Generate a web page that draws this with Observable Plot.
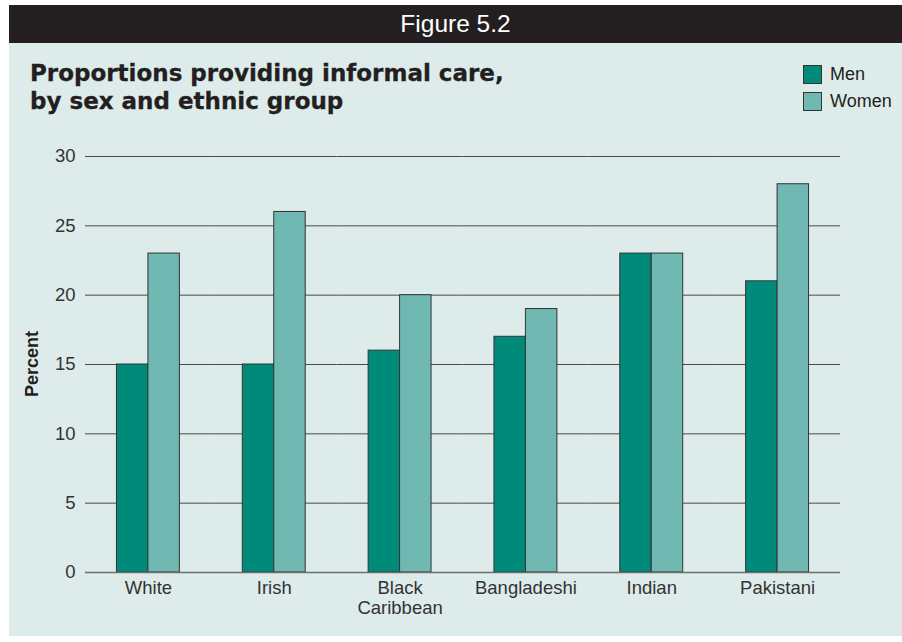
<!DOCTYPE html>
<html>
<head>
<meta charset="utf-8">
<script src="https://cdn.jsdelivr.net/npm/d3@7"></script>
<script src="https://cdn.jsdelivr.net/npm/@observablehq/plot@0.6"></script>
<style>
  html, body { margin: 0; padding: 0; background: #ffffff; }
  body { width: 902px; height: 642px; overflow: hidden; font-family: "Liberation Sans", Arial, Helvetica, sans-serif; }
  #wrap { position: relative; width: 902px; height: 642px; }
  #panel { position: absolute; left: 9px; top: 43px; width: 893px; height: 593px; background: #ddecea; }
  #header { position: absolute; left: 9px; top: 5px; width: 893px; height: 38px; background: #231f20; color: #ffffff;
            font-size: 24.5px; line-height: 38px; text-align: center; }
  #title { position: absolute; left: 30px; top: 59px; font-family: "DejaVu Sans", sans-serif; font-size: 23px; font-weight: bold;
           line-height: 28px; color: #231f20; -webkit-text-stroke: 0.3px #231f20; }
  .leg { position: absolute; left: 803px; width: 17px; height: 17px; border: 1px solid #333; }
  .legt { position: absolute; left: 830px; font-size: 18px; color: #231f20; line-height: 20px; }
  #ylab { position: absolute; left: 32px; top: 364px; transform: translate(-50%, -50%) rotate(-90deg);
          font-size: 18px; font-weight: bold; color: #231f20; white-space: nowrap; }
  #chart { position: absolute; left: 0; top: 130px; }
  #chart svg { background: transparent; }
</style>
</head>
<body>
<div id="wrap">
  <div id="panel"></div>
  <div id="header">Figure 5.2</div>
  <div id="title">Proportions providing informal care,<br>by sex and ethnic group</div>
  <div class="leg" style="top:65px; background:#008a7a;"></div>
  <div class="legt" style="top:64px;">Men</div>
  <div class="leg" style="top:92px; background:#70b9b3;"></div>
  <div class="legt" style="top:91px;">Women</div>
  <div id="ylab">Percent</div>
  <div id="chart"></div>
</div>
<script>
const groups = ["White", "Irish", "Black Caribbean", "Bangladeshi", "Indian", "Pakistani"];
const groupLabels = ["White", "Irish", "Black\nCaribbean", "Bangladeshi", "Indian", "Pakistani"];
const sexes = ["Men", "Women"];
const men = [15, 15, 16, 17, 23, 21];
const women = [23, 26, 20, 19, 23, 28];
const yTicks = [0, 5, 10, 15, 20, 25, 30];
const colors = ["#008a7a", "#70b9b3"];

const data = [];
groups.forEach((g, i) => {
  data.push({group: g, sex: sexes[0], value: men[i]});
  data.push({group: g, sex: sexes[1], value: women[i]});
});
const labelOf = new Map(groups.map((g, i) => [g, groupLabels[i]]));

const chart = Plot.plot({
  width: 902,
  height: 506,
  marginTop: 26,
  marginBottom: 64,
  marginLeft: 85,
  marginRight: 62,
  style: {background: "transparent", fontFamily: "'Liberation Sans', Arial, Helvetica, sans-serif", color: "#333333"},
  fx: {domain: groups, padding: 0, round: false},
  x: {domain: sexes, paddingInner: 0, paddingOuter: 1, round: false, axis: null},
  y: {domain: [0, 30], ticks: yTicks},
  color: {domain: sexes, range: colors},
  marks: [
    Plot.gridY(yTicks, {stroke: "#4a4a4a", strokeOpacity: 1, strokeWidth: 1}),
    Plot.barY(data, {fx: "group", x: "sex", y: "value", fill: "sex", stroke: "#333333", strokeWidth: 1}),
    Plot.ruleY([0], {stroke: "#6e6e6e", strokeWidth: 1.5}),
    Plot.axisY(yTicks, {tickSize: 0, tickPadding: 10, fontSize: 18.5, label: null, fill: "#333333"}),
    Plot.axisFx({anchor: "bottom", tickSize: 0, tickPadding: 7, fontSize: 18.5, label: null, lineHeight: 1.1,
                 tickFormat: d => labelOf.get(d), fill: "#333333"})
  ]
});
document.getElementById("chart").appendChild(chart);
</script>
</body>
</html>
